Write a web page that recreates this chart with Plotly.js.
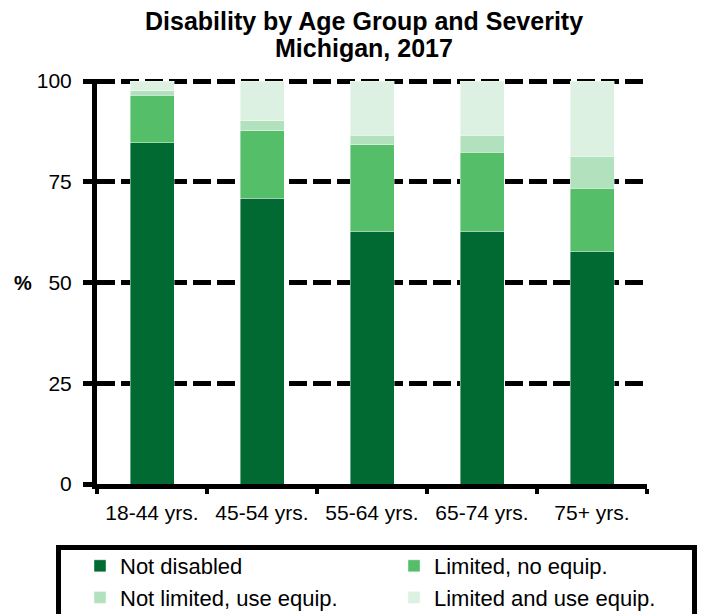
<!DOCTYPE html>
<html>
<head>
<meta charset="utf-8">
<script src="https://cdn.plot.ly/plotly-3.0.1.min.js"></script>
<style>
  html, body { margin: 0; padding: 0; background: #ffffff; }
  #chart { width: 704px; height: 614px; }
</style>
</head>
<body>
<div id="chart"></div>
<script>
// Age groups along the x axis
const ageGroups = ['18-44 yrs.', '45-54 yrs.', '55-64 yrs.', '65-74 yrs.', '75+ yrs.'];

// Share of adults (%) in each severity group, stacked to 100
const notDisabled        = [84.7, 70.9, 62.7, 62.7, 57.7];
const limitedNoEquip     = [11.8, 16.7, 21.5, 19.6, 15.7];
const notLimitedUseEquip = [1.1, 2.5, 2.4, 4.3, 7.9];
const limitedAndUseEquip = [2.4, 9.9, 13.4, 13.4, 18.7];

const seriesNames = ['Not disabled', 'Limited, no equip.', 'Not limited, use equip.', 'Limited and use equip.'];
const seriesValues = [notDisabled, limitedNoEquip, notLimitedUseEquip, limitedAndUseEquip];
const seriesColors = ['#006a32', '#54be68', '#b2e2bd', '#dcf1e1'];

const yTicks = [0, 25, 50, 75, 100];

const FONT = 'Liberation Sans, Arial, sans-serif';

const traces = seriesNames.map((name, i) => ({
  type: 'bar',
  name: name,
  x: ageGroups,
  y: seriesValues[i],
  width: 0.4,
  marker: { color: seriesColors[i], line: { width: 0.6, color: 'rgba(255,255,255,0.7)' } },
  hoverinfo: 'x+y+name'
}));

// plot-area geometry in pixels, used to place the legend frame and labels
const W = 704, H = 614;
const M = { l: 97, r: 57, t: 79, b: 130, autoexpand: false };
const PW = W - M.l - M.r, PH = H - M.t - M.b;
const Y_MAX = 100.5; // a little headroom so the 100 gridline is kept
const px2x = px => (px - M.l) / PW;
const py2y = py => (H - M.b - py) / PH;

const layout = {
  width: W,
  height: H,
  margin: M,
  paper_bgcolor: '#ffffff',
  plot_bgcolor: '#ffffff',
  barmode: 'stack',
  showlegend: true,
  font: { family: FONT, color: '#000000', size: 20 },
  xaxis: {
    type: 'category',
    showline: true,
    linecolor: '#000000',
    linewidth: 5,
    ticks: 'outside',
    tickson: 'boundaries',
    ticklen: 5,
    tickwidth: 4,
    tickcolor: '#000000',
    ticklabelstandoff: 6,
    showgrid: false,
    tickfont: { family: FONT, size: 21, color: '#000000' },
    zeroline: false
  },
  yaxis: {
    range: [0, Y_MAX],
    tickvals: yTicks,
    ticktext: yTicks.map(String),
    showline: true,
    linecolor: '#000000',
    linewidth: 5,
    ticks: 'outside',
    ticklen: 9,
    tickwidth: 5,
    tickcolor: '#000000',
    ticklabelstandoff: 7,
    showgrid: true,
    gridcolor: '#000000',
    gridwidth: 5,
    griddash: '18px,6px',
    zeroline: false,
    tickfont: { family: FONT, size: 21, color: '#000000' }
  },
  legend: {
    orientation: 'h',
    traceorder: 'normal',
    x: px2x(80),
    xanchor: 'left',
    y: py2y(545),
    yanchor: 'top',
    entrywidth: 269,
    entrywidthmode: 'pixels',
    itemwidth: 30,
    font: { family: FONT, size: 22, color: '#000000' },
    bgcolor: 'rgba(0,0,0,0)',
    borderwidth: 0,
    itemclick: false,
    itemdoubleclick: false
  },
  shapes: [{
    type: 'rect',
    xref: 'paper', yref: 'paper',
    x0: px2x(58.5), x1: px2x(694.5),
    y0: py2y(547.5), y1: py2y(650),
    line: { color: '#000000', width: 5 },
    fillcolor: 'rgba(0,0,0,0)',
    layer: 'above'
  }],
  annotations: [
    {
      text: '<b>Disability by Age Group and Severity</b>',
      xref: 'paper', yref: 'paper',
      x: px2x(364), y: py2y(21),
      xanchor: 'center', yanchor: 'middle',
      showarrow: false,
      font: { family: FONT, size: 25, color: '#000000' }
    },
    {
      text: '<b>Michigan, 2017</b>',
      xref: 'paper', yref: 'paper',
      x: px2x(364), y: py2y(48),
      xanchor: 'center', yanchor: 'middle',
      showarrow: false,
      font: { family: FONT, size: 25, color: '#000000' }
    },
    {
      text: '<b>%</b>',
      xref: 'paper', yref: 'y',
      x: px2x(23), y: 50,
      xanchor: 'center', yanchor: 'middle',
      showarrow: false,
      font: { family: FONT, size: 20, color: '#000000' }
    }
  ]
};

Plotly.newPlot('chart', traces, layout, { displayModeBar: false });
</script>
</body>
</html>
